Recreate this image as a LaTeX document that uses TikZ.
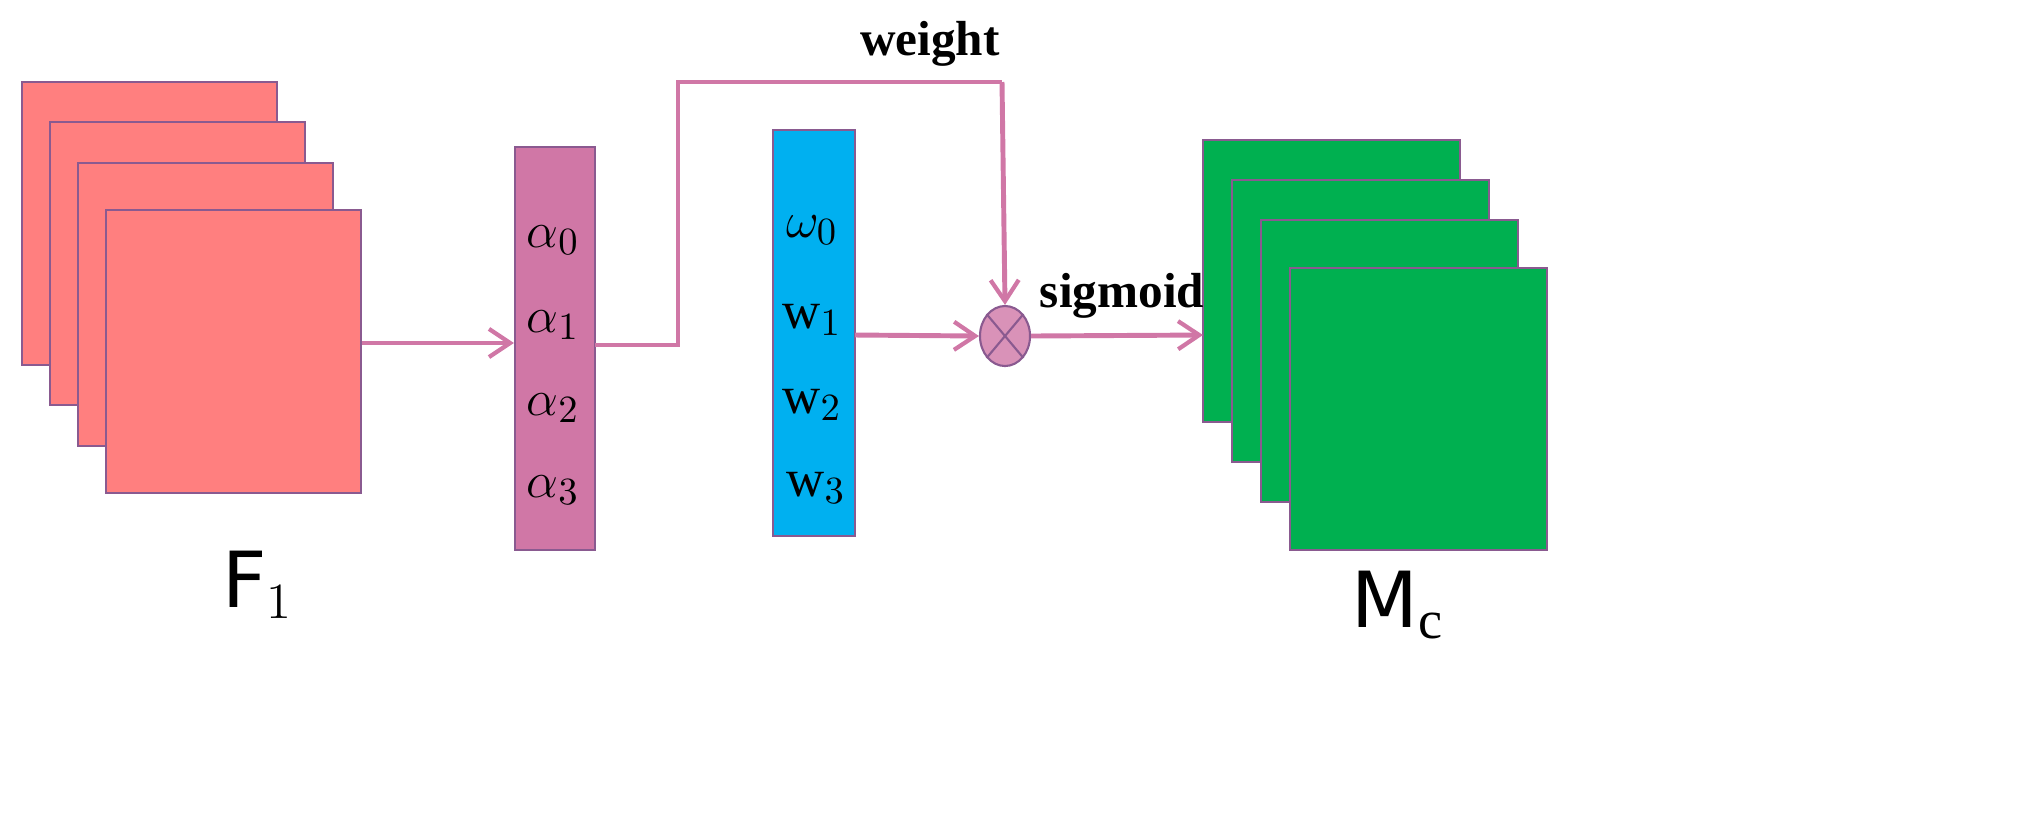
\documentclass[tikz,border=0pt]{standalone}
\usepackage{fontspec}
\setmainfont{Liberation Serif}
\newfontfamily\sansf{DejaVu Sans}
\usetikzlibrary{shapes.geometric,arrows.meta}
\definecolor{redf}{HTML}{FF7F7F}
\definecolor{purp}{HTML}{D077A6}
\definecolor{bluef}{HTML}{00B0F0}
\definecolor{greenf}{HTML}{00B050}
\definecolor{edge}{HTML}{8A5A90}
\begin{document}
\begin{tikzpicture}[x=0.01cm,y=-0.01cm,
 sq/.style={draw=edge,line width=0.6pt},
 conn/.style={draw=purp,line width=1.4pt},
 arr/.style={conn,-{Straight Barb[length=6pt,width=8pt,line width=1.2pt]}},
 lab/.style={font=\fontsize{15}{15}\selectfont},
 wlab/.style={font=\fontsize{15}{15}\selectfont}]
\useasboundingbox (0,0) rectangle (2034,838);
\foreach \dx/\dy in {0/0,28/40,56/81,84/128}
  \draw[sq,fill=redf] (22+\dx,82+\dy) rectangle (277+\dx,365+\dy);
\foreach \dx/\dy in {0/0,29/40,58/80,87/128}
  \draw[sq,fill=greenf] (1203+\dx,140+\dy) rectangle (1460+\dx,422+\dy);
\node[sq,fill=purp,minimum width=0.8cm,minimum height=4.03cm,inner sep=0] (pb) at (555,348.5) {};
\node[sq,fill=bluef,minimum width=0.82cm,minimum height=4.06cm,inner sep=0] (bb) at (814,333) {};
\node[lab] (a0) at (553,240) {$\alpha_0$};
\node[lab] (a1) at (553,325) {$\alpha_1$};
\node[lab] (a2) at (553,408) {$\alpha_2$};
\node[lab] (a3) at (553,490) {$\alpha_3$};
\node[lab] (w0) at (812,230) {$\omega_0$};
\node[wlab] (w1) at (812,320) {w$_1$};
\node[wlab] (w2) at (812,405) {w$_2$};
\node[wlab] (w3) at (816,488) {w$_3$};
\node[ellipse,draw=edge,line width=0.6pt,fill=purp!80,minimum width=0.5cm,minimum height=0.6cm,inner sep=0] (m) at (1005,336) {};
\draw[edge,line width=0.6pt] (m.north west)--(m.south east) (m.north east)--(m.south west);
\coordinate (s) at (362,343);
\coordinate (g) at (1203,335);
\draw[arr] (s) -- (pb.west|-s);
\draw[conn] (595,345) -- (678,345) -- (678,82) -- (1002,82) coordinate (t);
\draw[arr] (t) -- (m.north);
\draw[arr] (855,335) -- (m.west);
\draw[arr] (m.east) -- (g);
\node[font=\fontsize{14}{14}\selectfont\bfseries] (wt) at (930,44) {weight};
\node[font=\fontsize{14}{14}\selectfont\bfseries] (sg) at (1122,296) {sigmoid};
\node[font=\sansf\fontsize{22}{22}\selectfont] (f1) at (258,585) {F$_1$};
\node[font=\sansf\fontsize{22}{22}\selectfont] (mc) at (1398,605) {M$_\mathrm{c}$};
\end{tikzpicture}
\end{document}
